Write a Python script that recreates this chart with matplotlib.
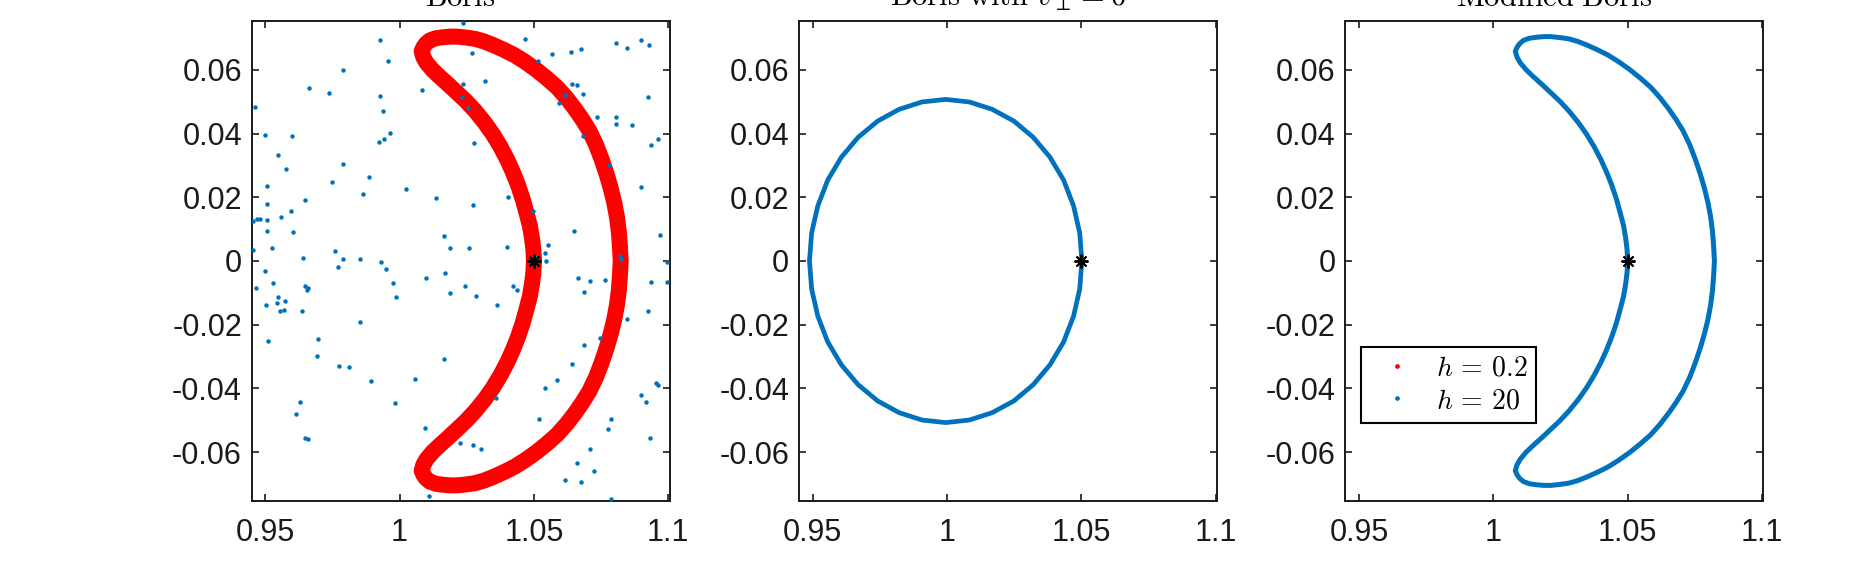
import matplotlib
matplotlib.use("Agg")
import matplotlib.pyplot as plt
from matplotlib.lines import Line2D

plt.rcParams['font.family'] = ['Liberation Sans', 'DejaVu Sans']
plt.rcParams['mathtext.fontset'] = 'cm'
plt.rcParams['axes.unicode_minus'] = False

# ---------------- data ----------------
titles = [r'$\mathrm{Boris}$', r'$\mathrm{Boris\ with\ }v_\perp = 0$', r'$\mathrm{Modified\ Boris}$']
legend_labels = [r'$h\,=\,0.2$', r'$h\,=\,20$']
xticks = [0.95, 1.0, 1.05, 1.1]
xtick_labels = ['0.95', '1', '1.05', '1.1']
yticks = [-0.06, -0.04, -0.02, 0.0, 0.02, 0.04, 0.06]
ytick_labels = ['-0.06', '-0.04', '-0.02', '0', '0.02', '0.04', '0.06']
start_x, start_y = 1.05, 0.0

# crescent orbit (h = 0.2 Boris / modified Boris)
crescent_x = [
    # inner edge, upper half (from start point upward)
    1.0500, 1.0498, 1.0493, 1.0485, 1.0473, 1.0458, 1.0440, 1.0421, 1.0400, 1.0375,
    1.0347, 1.0315, 1.0281, 1.0248, 1.0214, 1.0181, 1.0148, 1.0122, 1.0100, 1.0088,
    # outer edge, upper half (from tip)
    1.0082, 1.0088, 1.0098, 1.0112, 1.0135, 1.0161, 1.0188, 1.0214, 1.0248, 1.0281,
    1.0314, 1.0347, 1.0387, 1.0427, 1.0467, 1.0507, 1.0547, 1.0586, 1.0621, 1.0653,
    1.0681, 1.0706, 1.0731, 1.0752, 1.0770, 1.0786, 1.0799, 1.0809, 1.0816, 1.0820,
    1.0823,
    # outer edge, lower half
    1.0820, 1.0816, 1.0809, 1.0799, 1.0786, 1.0770, 1.0752, 1.0731, 1.0706, 1.0681,
    1.0653, 1.0621, 1.0586, 1.0547, 1.0507, 1.0467, 1.0427, 1.0387, 1.0347, 1.0314,
    1.0281, 1.0248, 1.0214, 1.0188, 1.0161, 1.0135, 1.0112, 1.0098, 1.0088, 1.0082,
    # inner edge, lower half
    1.0088, 1.0100, 1.0122, 1.0148, 1.0181, 1.0214, 1.0248, 1.0281, 1.0315, 1.0347,
    1.0375, 1.0400, 1.0421, 1.0440, 1.0458, 1.0473, 1.0485, 1.0493, 1.0498, 1.0500]
crescent_y = [
    0.0000, 0.0035, 0.0070, 0.0110, 0.0149, 0.0195, 0.0240, 0.0280, 0.0319, 0.0359,
    0.0398, 0.0436, 0.0471, 0.0501, 0.0528, 0.0554, 0.0579, 0.0600, 0.0622, 0.0640,
    0.0658, 0.0670, 0.0682, 0.0692, 0.0699, 0.0702, 0.0704, 0.0704, 0.0701, 0.0697,
    0.0689, 0.0678, 0.0663, 0.0646, 0.0625, 0.0601, 0.0574, 0.0545, 0.0512, 0.0477,
    0.0443, 0.0409, 0.0365, 0.0319, 0.0274, 0.0228, 0.0183, 0.0138, 0.0092, 0.0047,
    0.0000,
    -0.0047, -0.0092, -0.0138, -0.0183, -0.0228, -0.0274, -0.0319, -0.0365, -0.0409, -0.0443,
    -0.0477, -0.0512, -0.0545, -0.0574, -0.0601, -0.0625, -0.0646, -0.0663, -0.0678, -0.0689,
    -0.0697, -0.0701, -0.0704, -0.0704, -0.0702, -0.0699, -0.0692, -0.0682, -0.0670, -0.0658,
    -0.0640, -0.0622, -0.0600, -0.0579, -0.0554, -0.0528, -0.0501, -0.0471, -0.0436, -0.0398,
    -0.0359, -0.0319, -0.0280, -0.0240, -0.0195, -0.0149, -0.0110, -0.0070, -0.0035, 0.0000]

# circular orbit (Boris with v_perp = 0)
circle_x = [1.0502, 1.0494, 1.0471, 1.0434, 1.0383, 1.0321, 1.0249, 1.0168, 1.0083, 0.9995,
            0.9907, 0.9822, 0.9742, 0.9669, 0.9607, 0.9556, 0.9519, 0.9496, 0.9488,
            0.9496, 0.9519, 0.9556, 0.9607, 0.9669, 0.9742, 0.9822, 0.9907, 0.9995,
            1.0083, 1.0168, 1.0249, 1.0321, 1.0383, 1.0434, 1.0471, 1.0494, 1.0502]
circle_y = [0.0000, 0.0088, 0.0173, 0.0254, 0.0326, 0.0388, 0.0439, 0.0476, 0.0499, 0.0507,
            0.0499, 0.0476, 0.0439, 0.0388, 0.0326, 0.0254, 0.0173, 0.0088, 0.0000,
            -0.0088, -0.0173, -0.0254, -0.0326, -0.0388, -0.0439, -0.0476, -0.0499, -0.0507,
            -0.0499, -0.0476, -0.0439, -0.0388, -0.0326, -0.0254, -0.0173, -0.0088, 0.0000]

# scattered Boris h = 20 points
boris_h20_x = [1.0237, 0.9926, 0.9958, 0.9790, 0.9664, 0.9737, 0.9462, 0.9927, 0.9939,
               1.0465, 1.0515, 1.0566, 1.0639, 1.0677, 1.0805, 1.0846, 1.0900, 1.0930,
               1.0271, 1.0318, 1.0084, 1.0236, 1.0231, 1.0255,
               1.0641, 1.0659, 1.0682, 1.0615, 1.0593, 1.0733, 1.0805, 1.0807, 1.0864, 1.0925, 1.0961, 1.0937,
               0.9500, 0.9599, 0.9925, 0.9942, 0.9963, 0.9547, 0.9576, 0.9789, 1.0277, 1.0681,
               0.9885, 0.9749, 1.0024, 0.9506, 0.9862, 0.9647, 0.9506, 0.9595, 0.9557, 0.9454, 0.9468, 0.9480, 0.9507, 0.9602, 0.9507,
               1.0272, 1.0134, 1.0405, 1.0495, 1.0778, 1.0898, 1.0650, 1.0164, 1.0968, 1.0554, 1.0400, 1.0260, 1.0186,
               0.9524, 0.9640, 0.9759, 0.9790, 0.9853, 0.9931, 0.9454, 1.0540, 1.0546, 1.0504, 1.0821, 1.0825, 1.0996,
               0.9769, 0.9949, 0.9498, 0.9528, 0.9464, 0.9975, 0.9988, 1.0097, 1.0169, 1.0186, 1.0243, 1.0286,
               1.0423, 1.0437, 1.0362, 1.0665, 1.0709, 1.0766, 1.0686, 1.0935, 1.0997,
               0.9646, 0.9654, 0.9659, 0.9636, 0.9548, 0.9572, 0.9545, 0.9553, 0.9571, 0.9502, 0.9854, 1.0926, 1.0846,
               0.9510, 0.9698, 0.9691, 0.9776, 0.9811, 0.9892, 0.9983, 1.0058, 1.0165, 1.0685, 1.0747, 1.0642,
               1.0587, 1.0540, 1.0360, 1.0955, 1.0962, 1.0898, 1.0918,
               0.9631, 0.9613, 0.9647, 0.9659, 1.0095, 1.0517, 1.0786, 1.0776, 1.0932, 1.0226, 1.0272, 1.0304,
               1.0709, 1.0661, 1.0723, 1.0616, 1.0676, 1.0108, 1.0787]
boris_h20_y = [0.0746, 0.0692, 0.0628, 0.0598, 0.0542, 0.0527, 0.0484, 0.0518, 0.0471,
               0.0696, 0.0629, 0.0649, 0.0657, 0.0666, 0.0683, 0.0667, 0.0692, 0.0678,
               0.0652, 0.0565, 0.0536, 0.0556, 0.0516, 0.0481,
               0.0554, 0.0553, 0.0524, 0.0520, 0.0497, 0.0451, 0.0451, 0.0429, 0.0426, 0.0516, 0.0383, 0.0365,
               0.0394, 0.0392, 0.0373, 0.0384, 0.0401, 0.0332, 0.0288, 0.0303, 0.0371, 0.0391,
               0.0262, 0.0247, 0.0225, 0.0235, 0.0209, 0.0190, 0.0179, 0.0158, 0.0139, 0.0124, 0.0131, 0.0132, 0.0128, 0.0092, 0.0095,
               0.0175, 0.0198, 0.0202, 0.0156, 0.0301, 0.0231, 0.0095, 0.0080, 0.0082, 0.0049, 0.0044, 0.0040, 0.0041,
               0.0041, 0.0010, 0.0031, 0.0007, 0.0005, -0.0002, 0.0034, 0.0026, 0.0000, 0.0011, 0.0016, 0.0007, -0.0003,
               -0.0019, -0.0026, -0.0031, -0.0069, -0.0085, -0.0068, -0.0112, -0.0053, -0.0038, -0.0101, -0.0077, -0.0111,
               -0.0078, -0.0092, -0.0137, -0.0052, -0.0064, -0.0061, -0.0097, -0.0067, -0.0066,
               -0.0079, -0.0090, -0.0085, -0.0158, -0.0114, -0.0124, -0.0133, -0.0158, -0.0155, -0.0139, -0.0191, -0.0156, -0.0181,
               -0.0251, -0.0246, -0.0298, -0.0331, -0.0334, -0.0377, -0.0446, -0.0370, -0.0308, -0.0262, -0.0242, -0.0322,
               -0.0373, -0.0399, -0.0431, -0.0383, -0.0390, -0.0421, -0.0443,
               -0.0442, -0.0479, -0.0555, -0.0559, -0.0523, -0.0497, -0.0497, -0.0527, -0.0554, -0.0572, -0.0576, -0.0589,
               -0.0591, -0.0635, -0.0660, -0.0688, -0.0692, -0.0738, -0.0747]

# ---------------- styling ----------------
RED = '#FF0000'
BLUE = '#0072BD'
W, H = 1870, 566
fig = plt.figure(figsize=(W / 100, H / 100), dpi=100)

ax_bottom = (566 - 501) / H
ax_height = 480 / H
ax_width = 418 / W
lefts = [251.6 / W, 799.0 / W, 1345.3 / W]
axes = [fig.add_axes([l, ax_bottom, ax_width, ax_height]) for l in lefts]

for ax, title in zip(axes, titles):
    ax.set_xlim(0.9449, 1.1005)
    ax.set_ylim(-0.0753, 0.0753)
    ax.set_xticks(xticks)
    ax.set_xticklabels(xtick_labels)
    ax.set_yticks(yticks)
    ax.set_yticklabels(ytick_labels)
    ax.tick_params(axis='both', which='both', direction='in', top=True, right=True,
                   length=5, width=1.2, labelsize=22, colors='#1a1a1a')
    ax.tick_params(axis='x', pad=12)
    ax.tick_params(axis='y', pad=7)
    for sp in ax.spines.values():
        sp.set_linewidth(1.4)
        sp.set_color('#1a1a1a')
    ax.text(0.5, 1.031, title, transform=ax.transAxes, ha='center', va='baseline',
            fontsize=22, color='black', clip_on=False)

# Panel 1: Boris
ax = axes[0]
ax.plot(crescent_x, crescent_y, color=RED, lw=11.5, solid_joinstyle='round',
        solid_capstyle='round', zorder=2)
ax.plot(boris_h20_x, boris_h20_y, linestyle='none', marker='o', ms=3.2, mew=0,
        color=BLUE, zorder=3, clip_on=True)
ax.plot([start_x], [start_y], linestyle='none', marker=(8, 2, 0), ms=10, mew=1.4,
        color='black', zorder=4)

# Panel 2: Boris with v_perp = 0
ax = axes[1]
ax.plot(circle_x, circle_y, color=BLUE, lw=3.4, solid_joinstyle='round', zorder=2)
ax.plot([start_x], [start_y], linestyle='none', marker=(8, 2, 0), ms=10, mew=1.4,
        color='black', zorder=4)

# Panel 3: Modified Boris
ax = axes[2]
ax.plot(crescent_x, crescent_y, color=RED, lw=2.5, solid_joinstyle='round', zorder=2)
ax.plot(crescent_x, crescent_y, color=BLUE, lw=3.6, solid_joinstyle='round', zorder=3)
ax.plot([start_x], [start_y], linestyle='none', marker=(8, 2, 0), ms=10, mew=1.4,
        color='black', zorder=4)

handles = [Line2D([], [], linestyle='none', marker='o', ms=3.4, mew=0, color=RED),
           Line2D([], [], linestyle='none', marker='o', ms=3.4, mew=0, color=BLUE)]
leg = ax.legend(handles, legend_labels, loc='upper left', bbox_to_anchor=(0.037, 0.321),
                borderaxespad=0, fontsize=20, frameon=True, fancybox=False,
                handlelength=2.0, handletextpad=0.4, borderpad=0.3, labelspacing=0.25)
leg.get_frame().set_edgecolor('black')
leg.get_frame().set_linewidth(1.5)
leg.get_frame().set_alpha(1)

fig.savefig('out.png', dpi=100)
